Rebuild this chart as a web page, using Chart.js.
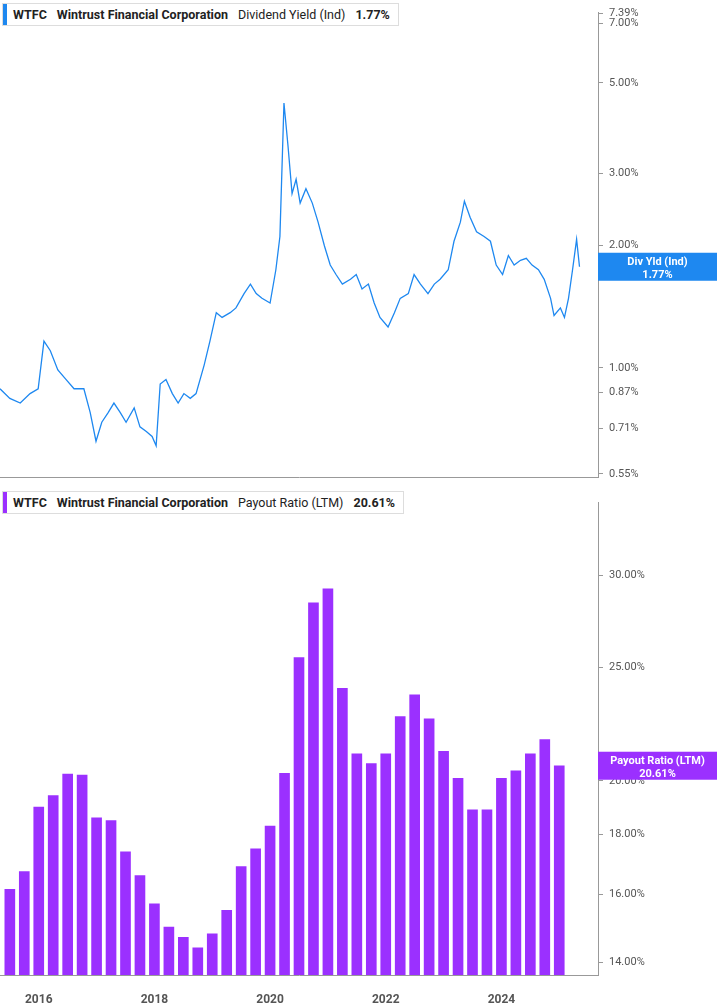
<!DOCTYPE html>
<html><head><meta charset="utf-8">
<script src="https://cdn.jsdelivr.net/npm/chart.js@4"></script>
<style>
body{margin:0;background:#fff;font-family:Roboto,"Open Sans",sans-serif;width:717px;height:1005px;overflow:hidden;position:relative}
.wrap{position:absolute;left:0;width:717px}
.legend{position:absolute;left:2px;background:#fff;border:1px solid #ddd;font-size:12.5px;color:#222;padding:3px 8px 3px 10px;white-space:nowrap;z-index:2}
.legend:before{content:"";position:absolute;left:0;top:0;bottom:0;width:4px}
.l1:before{background:#1e88f0}.l2:before{background:#9b30ff}
.legend b{font-weight:700;margin-right:10px}
.legend span{margin-right:10px}
</style></head><body>
<div class="legend l1" style="top:3px"><b>WTFC</b><b>Wintrust Financial Corporation</b><span>Dividend Yield (Ind)</span><b style="margin-right:0">1.77%</b></div>
<div class="legend l2" style="top:491px"><b>WTFC</b><b>Wintrust Financial Corporation</b><span>Payout Ratio (LTM)</span><b style="margin-right:0">20.61%</b></div>
<div class="wrap" style="top:0;height:490px"><canvas id="c1"></canvas></div>
<div class="wrap" style="top:490px;height:515px"><canvas id="c2"></canvas></div>
<script>
// dividend yield (%) by fractional year
const yieldYears = [2015.33,2015.50,2015.68,2015.85,2015.99,2016.09,2016.20,2016.33,2016.47,2016.61,2016.78,2016.89,2016.99,2017.09,2017.20,2017.30,2017.41,2017.51,2017.65,2017.75,2017.86,2017.96,2018.03,2018.10,2018.20,2018.31,2018.41,2018.51,2018.62,2018.72,2018.86,2018.96,2019.07,2019.17,2019.31,2019.41,2019.55,2019.66,2019.76,2019.86,2020.00,2020.10,2020.17,2020.24,2020.31,2020.38,2020.45,2020.52,2020.62,2020.73,2020.83,2020.94,2021.04,2021.14,2021.25,2021.39,2021.49,2021.59,2021.70,2021.80,2021.90,2022.04,2022.15,2022.25,2022.39,2022.49,2022.60,2022.73,2022.84,2022.94,2023.08,2023.18,2023.29,2023.36,2023.46,2023.57,2023.70,2023.81,2023.91,2024.02,2024.12,2024.22,2024.33,2024.43,2024.53,2024.64,2024.74,2024.85,2024.91,2025.02,2025.09,2025.16,2025.23,2025.30,2025.35];
const yieldValues = [0.889,0.842,0.820,0.865,0.889,1.163,1.102,0.989,0.937,0.889,0.889,0.777,0.661,0.736,0.777,0.820,0.777,0.736,0.798,0.717,0.698,0.679,0.644,0.913,0.937,0.865,0.820,0.865,0.842,0.865,1.016,1.163,1.366,1.330,1.366,1.403,1.521,1.605,1.521,1.481,1.442,1.740,2.100,4.46,3.50,2.675,2.90,2.535,2.75,2.535,2.277,1.990,1.787,1.694,1.605,1.649,1.694,1.562,1.605,1.442,1.330,1.260,1.366,1.481,1.521,1.694,1.605,1.521,1.605,1.649,1.740,2.044,2.277,2.562,2.338,2.157,2.100,2.044,1.787,1.694,1.886,1.787,1.836,1.856,1.787,1.740,1.649,1.481,1.344,1.403,1.330,1.481,1.740,2.066,1.77];
// payout ratio (%) quarterly
const payoutQuarters = [2015.5,2015.75,2016,2016.25,2016.5,2016.75,2017,2017.25,2017.5,2017.75,2018,2018.25,2018.5,2018.75,2019,2019.25,2019.5,2019.75,2020,2020.25,2020.5,2020.75,2021,2021.25,2021.5,2021.75,2022,2022.25,2022.5,2022.75,2023,2023.25,2023.5,2023.75,2024,2024.25,2024.5,2024.75,2025];
const payoutValues = [16.16,16.73,19.0,19.43,20.27,20.23,18.6,18.5,17.4,16.6,15.7,15.0,14.7,14.4,14.8,15.5,16.9,17.5,18.3,20.3,25.5,28.4,29.2,24.0,21.1,20.7,21.1,22.7,23.7,22.6,21.2,20.1,18.9,18.9,20.1,20.4,21.1,21.7,20.61];
const yieldTicks = [0.55,0.71,0.87,1,2,3,5,7,7.39];
const payoutTicks = [14,16,18,20,25,30];
const yearTicks = [2016,2018,2020,2022,2024];

const fnt = {family:'Roboto', size:11};
function tagPlugin(label, value, color){
  return {id:'tag', afterDraw(ch){
    const y = ch.scales.y.getPixelForValue(value), x = ch.chartArea.right, c = ch.ctx;
    c.save(); c.fillStyle = color; c.fillRect(x, y-14, 717-x, 28);
    c.fillStyle = '#fff'; c.font = 'bold 11px Roboto'; c.textAlign = 'center';
    c.fillText(label, x+(717-x)/2, y-2); c.fillText(value.toFixed(2)+'%', x+(717-x)/2, y+11);
    c.restore();
  }};
}
function yScale(ticks, min, max){
  return {type:'logarithmic', position:'right', min, max,
    afterBuildTicks: s => { s.ticks = ticks.map(v => ({value:v})); },
    afterFit: s => { s.width = 119; },
    ticks:{color:'#555', font:fnt, padding:6, callback: v => v.toFixed(2)+'%'},
    grid:{drawOnChartArea:false, tickLength:5, color:'#999'}, border:{color:'#999'}};
}
const xBase = {type:'linear', min:2015.33, max:2025.67, offset:false, grid:{display:false, offset:false}, border:{color:'#999'}};

new Chart(document.getElementById('c1'), {
  type:'line',
  data:{datasets:[{data:yieldYears.map((x,i)=>({x, y:yieldValues[i]})), borderColor:'#1e88f0', borderWidth:1.3, pointRadius:0, tension:0}]},
  options:{responsive:true, maintainAspectRatio:false, animation:false, layout:{padding:0},
    plugins:{legend:{display:false}, tooltip:{enabled:false}},
    scales:{x:{...xBase, ticks:{display:false}, afterFit: s => { s.height = 2; }}, y:yScale(yieldTicks, 0.539, 7.43)}},
  plugins:[tagPlugin('Div Yld (Ind)', 1.77, '#1e88f0')]
});
new Chart(document.getElementById('c2'), {
  type:'bar',
  data:{datasets:[{data:payoutQuarters.map((x,i)=>({x, y:payoutValues[i]})), backgroundColor:'#9b30ff', barThickness:10}]},
  options:{responsive:true, maintainAspectRatio:false, animation:false, layout:{padding:0},
    plugins:{legend:{display:false}, tooltip:{enabled:false}},
    scales:{x:{...xBase, afterBuildTicks: s => { s.ticks = yearTicks.map(v => ({value:v})); },
        afterFit: s => { s.height = 30; },
        ticks:{color:'#555', font:{family:'Roboto', size:12, weight:'bold'}, callback: v => String(v), padding:10}},
      y:yScale(payoutTicks, 13.65, 34.6)}},
  plugins:[tagPlugin('Payout Ratio (LTM)', 20.61, '#9b30ff')]
});
</script>
</body></html>
